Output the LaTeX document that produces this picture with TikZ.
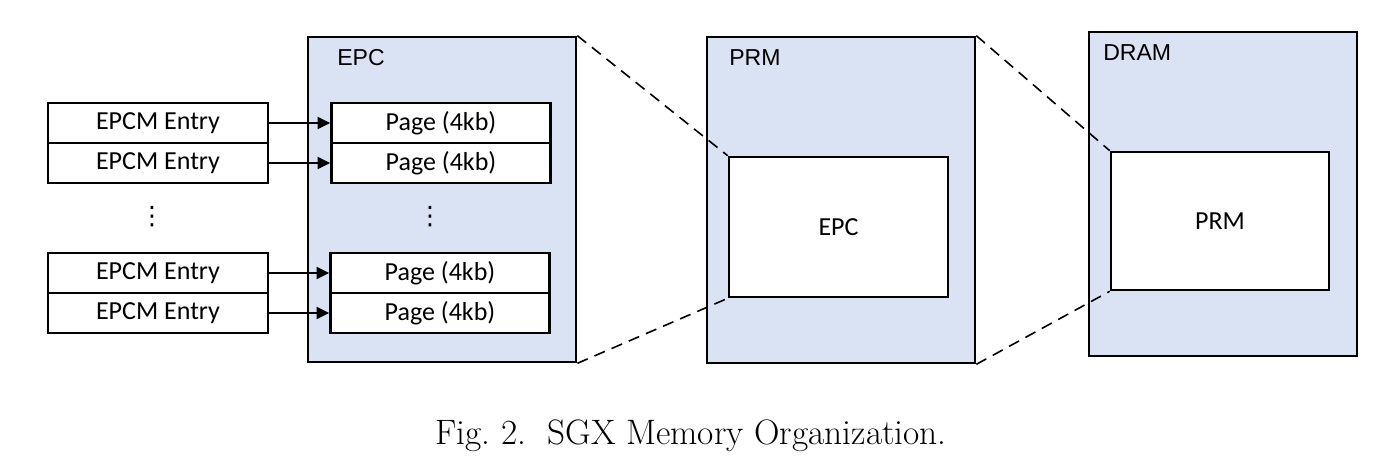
\documentclass[tikz,border=0pt]{standalone}
\usepackage{fontspec}
\newfontfamily\carlito{Carlito}
\newfontfamily\arialf{Liberation Sans}
\newfontfamily\dejavu{DejaVu Sans}
\usetikzlibrary{arrows.meta}
\definecolor{memfill}{HTML}{DAE3F3}
\tikzset{
  px/.style={x=0.75pt,y=-0.75pt},
  membox/.style={draw=black, line width=2pt, fill=memfill, inner sep=0pt},
  cellbox/.style={draw=black, line width=2pt, fill=white, inner sep=0pt,
    minimum height=40*0.75pt, font=\carlito\fontsize{19.5}{20}\selectfont},
  memlabel/.style={anchor=west, inner sep=0pt, font=\arialf\fontsize{17.3}{18}\selectfont},
  zoomline/.style={draw=black, line width=1.2pt, dash pattern=on 8.5pt off 5.5pt},
  ptr/.style={draw=black, line width=1.8pt, -{Triangle[length=9.5pt,width=9pt]}},
  vdotsnode/.style={inner sep=0pt, font=\dejavu\fontsize{19}{19}\selectfont}
}
\begin{document}
\begin{tikzpicture}[px]
\useasboundingbox (0,0) rectangle (1374,468);
\fill[white] (0,0) rectangle (1374,468);

% big memory boxes
\node[membox, minimum width=268*0.75pt, minimum height=325*0.75pt] (epc) at (442,199.5) {};
\node[membox, minimum width=268*0.75pt, minimum height=326*0.75pt] (prm) at (841,200) {};
\node[membox, minimum width=268*0.75pt, minimum height=324*0.75pt] (dram) at (1223,194) {};

\node[memlabel] (epclab) at (337,58) {EPC};
\node[memlabel] (prmlab) at (729,58) {PRM};
\node[memlabel] (dramlab) at (1103,53) {DRAM};

% inner boxes
\node[cellbox, minimum width=219*0.75pt, minimum height=140*0.75pt] (iepc) at (838.5,227) {EPC};
\node[cellbox, minimum width=218*0.75pt, minimum height=138*0.75pt] (iprm) at (1220,221) {PRM};

% dashed zoom lines
\draw[zoomline] (epc.north east) -- (iepc.north west);
\draw[zoomline] (epc.south east) -- (iepc.south west);
\draw[zoomline] (prm.north east) -- (iprm.north west);
\draw[zoomline] (prm.south east) -- (iprm.south west);

% EPCM entries
\node[cellbox, minimum width=220*0.75pt] (e1) at (158,123) {EPCM Entry};
\node[cellbox, minimum width=220*0.75pt] (e2) at (158,163) {EPCM Entry};
\node[cellbox, minimum width=220*0.75pt] (e3) at (158,273) {EPCM Entry};
\node[cellbox, minimum width=220*0.75pt] (e4) at (158,313) {EPCM Entry};

% pages
\node[cellbox, minimum width=219*0.75pt] (p1) at (441,123) {Page (4kb)};
\node[cellbox, minimum width=219*0.75pt] (p2) at (441,163) {Page (4kb)};
\node[cellbox, minimum width=219*0.75pt] (p3) at (440,273) {Page (4kb)};
\node[cellbox, minimum width=219*0.75pt] (p4) at (440,313) {Page (4kb)};

\node[vdotsnode] (d1) at (152,217) {⋮};
\node[vdotsnode] (d2) at (430,217) {⋮};

% pointers
\draw[ptr] (e1.east) -- (p1.west);
\draw[ptr] (e2.east) -- (p2.west);
\draw[ptr] (e3.east) -- (p3.west);
\draw[ptr] (e4.east) -- (p4.west);

% caption
\node[inner sep=0pt, font=\fontsize{26.5}{28}\selectfont] (cap) at (691,436) {Fig.~2.\hskip0.6em SGX Memory Organization.};
\end{tikzpicture}
\end{document}
